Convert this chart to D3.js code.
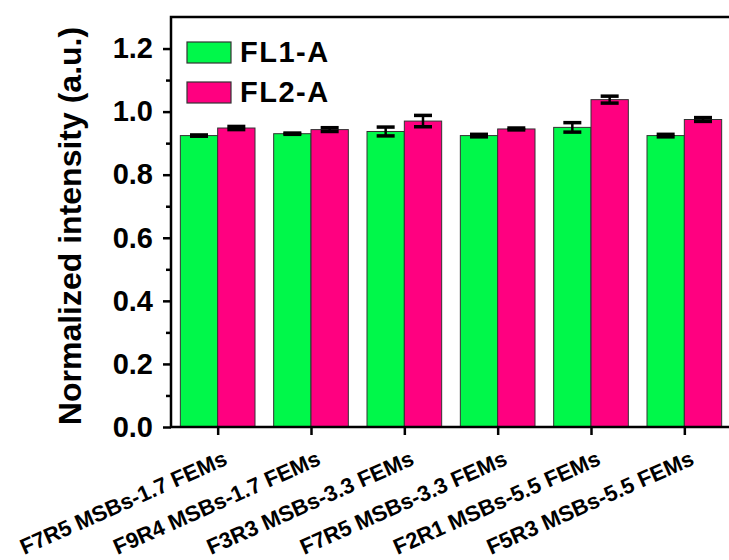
<!DOCTYPE html>
<html>
<head>
<meta charset="utf-8">
<script src="https://cdn.jsdelivr.net/npm/d3@7"></script>
<style>
  body { margin: 0; background: #fff; }
  svg { display: block; font-family: Arial, "Liberation Sans", sans-serif; }
</style>
</head>
<body>
<svg></svg>
<script>
// datos
let categories = [
  "F7R5 MSBs-1.7 FEMs",
  "F9R4 MSBs-1.7 FEMs",
  "F3R3 MSBs-3.3 FEMs",
  "F7R5 MSBs-3.3 FEMs",
  "F2R1 MSBs-5.5 FEMs",
  "F5R3 MSBs-5.5 FEMs"
];
let seriesNames = ["FL1-A", "FL2-A"];
let fl1Values = [0.924, 0.930, 0.937, 0.924, 0.950, 0.924];
let fl1Errors = [0.002, 0.002, 0.014, 0.004, 0.015, 0.004];
let fl2Values = [0.948, 0.943, 0.970, 0.945, 1.038, 0.975];
let fl2Errors = [0.005, 0.006, 0.018, 0.003, 0.011, 0.006];
let yTicks = [0.0, 0.2, 0.4, 0.6, 0.8, 1.0, 1.2];
let yMinorTicks = [0.1, 0.3, 0.5, 0.7, 0.9, 1.1];

const width = 729;
const height = 560;
const plotLeft = 171;
const plotRight = 731;
const plotTop = 17;
const plotBottom = 427;
const colors = ["#00f84a", "#ff0080"];

let svg = d3.select("svg").attr("width", width).attr("height", height);

let xScale;
let yScale;

function escalas() {
  xScale = d3.scaleLinear().domain([0.5, categories.length + 0.5]).range([plotLeft, plotRight]);
  yScale = d3.scaleLinear().domain([0, 1.3]).range([plotBottom, plotTop]);
}

function drawBars() {
  let series = [
    { vals: fl1Values, errs: fl1Errors, off: -0.4 },
    { vals: fl2Values, errs: fl2Errors, off: 0 }
  ];
  let bw = xScale(1.4) - xScale(1);

  series.forEach((s, si) => {
    let g = svg.append("g");
    g.selectAll("rect")
      .data(s.vals)
      .enter()
      .append("rect")
      .attr("x", (d, i) => xScale(i + 1 + s.off))
      .attr("y", (d) => yScale(d))
      .attr("width", bw)
      .attr("height", (d) => yScale(0) - yScale(d))
      .attr("fill", colors[si])
      .attr("stroke", "#333")
      .attr("stroke-width", 1);

    // barras de error
    let eb = svg.append("g").attr("stroke", "#000").attr("stroke-width", 3.5);
    s.vals.forEach((d, i) => {
      let cx = xScale(i + 1 + s.off + 0.2);
      let e = s.errs[i];
      eb.append("line")
        .attr("x1", cx).attr("x2", cx)
        .attr("y1", yScale(d + e)).attr("y2", yScale(d - e))
        .attr("stroke-width", 2.5);
      [d + e, d - e].forEach((v) => {
        eb.append("line")
          .attr("x1", cx - 9).attr("x2", cx + 9)
          .attr("y1", yScale(v)).attr("y2", yScale(v));
      });
    });
  });
}

function generateAxes() {
  let yAxis = d3.axisLeft(yScale)
    .tickValues(yTicks)
    .tickFormat(d3.format(".1f"))
    .tickSize(8)
    .tickPadding(10);
  let ya = svg.append("g")
    .attr("id", "y-axis")
    .attr("transform", "translate(" + plotLeft + ",0)")
    .call(yAxis);
  ya.select(".domain").remove();
  ya.selectAll("line").attr("stroke", "#000").attr("stroke-width", 2.5);
  ya.selectAll("text")
    .attr("fill", "#000")
    .style("font-size", "29px")
    .style("font-weight", "bold");

  let yMinor = d3.axisLeft(yScale).tickValues(yMinorTicks).tickSize(5).tickFormat("");
  let ym = svg.append("g")
    .attr("transform", "translate(" + plotLeft + ",0)")
    .call(yMinor);
  ym.select(".domain").remove();
  ym.selectAll("line").attr("stroke", "#000").attr("stroke-width", 2.5);

  let xAxis = d3.axisBottom(xScale)
    .tickValues(d3.range(1, categories.length + 1))
    .tickFormat("")
    .tickSize(8);
  let xa = svg.append("g")
    .attr("id", "x-axis")
    .attr("transform", "translate(0," + plotBottom + ")")
    .call(xAxis);
  xa.select(".domain").remove();
  xa.selectAll("line").attr("stroke", "#000").attr("stroke-width", 2.5);

  // etiquetas giradas
  svg.append("g")
    .selectAll("text")
    .data(categories)
    .enter()
    .append("text")
    .attr("transform", (d, i) => "translate(" + (xScale(i + 1) + 11) + "," + (plotBottom + 37) + ") rotate(-24)")
    .attr("text-anchor", "end")
    .style("font-size", "22px")
    .style("font-weight", "bold")
    .text((d) => d);

  // marco
  svg.append("path")
    .attr("d", "M" + plotLeft + "," + plotBottom + "V" + plotTop + "H" + plotRight + "V" + plotBottom + "Z")
    .attr("fill", "none")
    .attr("stroke", "#000")
    .attr("stroke-width", 2.5);

  svg.append("text")
    .attr("transform", "translate(81,226) rotate(-90)")
    .attr("text-anchor", "middle")
    .style("font-size", "32px")
    .style("font-weight", "bold")
    .text("Normalized intensity (a.u.)");
}

function drawLegend() {
  let lg = svg.append("g").attr("transform", "translate(187,42)");
  seriesNames.forEach((n, i) => {
    lg.append("rect")
      .attr("x", 0)
      .attr("y", i * 40)
      .attr("width", 44)
      .attr("height", 21)
      .attr("fill", colors[i])
      .attr("stroke", "#333")
      .attr("stroke-width", 1.2);
    lg.append("text")
      .attr("x", 53)
      .attr("y", i * 40 + 20)
      .style("font-size", "29px")
      .style("font-weight", "bold")
      .style("letter-spacing", "1.5px")
      .text(n);
  });
}

escalas();
drawBars();
generateAxes();
drawLegend();
</script>
</body>
</html>
